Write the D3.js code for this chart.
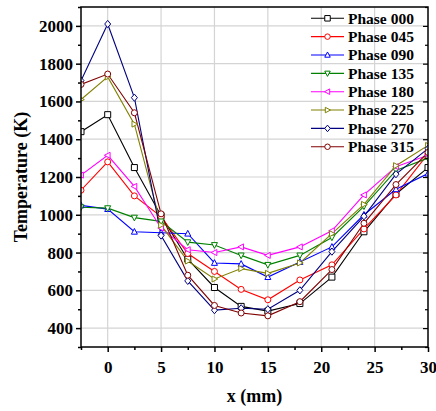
<!DOCTYPE html>
<html><head><meta charset="utf-8">
<script src="https://cdn.jsdelivr.net/npm/d3@7"></script>
<style>
html,body{margin:0;padding:0;background:#fff;}
svg text{font-family:'Liberation Serif','Times New Roman',Times,'DejaVu Serif',serif !important;font-weight:bold;}
</style></head>
<body><svg id="chart" width="436" height="411"></svg>
<script>
const xPositions = [-2.5, 0, 2.5, 5, 7.5, 10, 12.5, 15, 18, 21, 24, 27, 30];
const seriesNames = ["Phase 000","Phase 045","Phase 090","Phase 135","Phase 180","Phase 225","Phase 270","Phase 315"];
const phase000 = [1440, 1530, 1250, 995, 765, 615, 515, 490, 530, 670, 910, 1110, 1250];
const phase045 = [1130, 1280, 1100, 990, 795, 700, 605, 550, 655, 735, 925, 1105, 1322];
const phase090 = [1050, 1030, 910, 905, 900, 745, 740, 670, 750, 830, 1000, 1135, 1218];
const phase135 = [1040, 1035, 985, 965, 855, 840, 785, 735, 785, 880, 1045, 1235, 1300];
const phase180 = [1210, 1315, 1150, 930, 815, 800, 830, 785, 830, 915, 1105, 1255, 1315];
const phase225 = [1610, 1730, 1480, 945, 755, 660, 715, 690, 745, 900, 1055, 1260, 1367];
const phase270 = [1710, 2010, 1620, 890, 650, 495, 505, 500, 600, 805, 992, 1215, 1350];
const phase315 = [1690, 1745, 1540, 1005, 680, 520, 480, 465, 540, 710, 955, 1160, 1330];
const seriesValues = [phase000, phase045, phase090, phase135, phase180, phase225, phase270, phase315];
const colors = ["#000000","#ff0000","#0000ff","#008000","#ff00ff","#808000","#000080","#800000"];
const symbols = ["square","circle","triUp","triDown","triLeft","triRight","diamond","circle"];
const xTicks = [0, 5, 10, 15, 20, 25, 30];
const yTicks = [400, 600, 800, 1000, 1200, 1400, 1600, 1800, 2000];

const FONT = "'Liberation Serif','Times New Roman',Times,'DejaVu Serif',serif";
const W = 436, H = 411;
const m = {left: 81, top: 7, right: 8, bottom: 64};
const iw = W - m.left - m.right, ih = H - m.top - m.bottom;
const svg = d3.select("#chart");
const x = d3.scaleLinear().domain([-2.5, 30]).range([m.left, m.left + iw]);
const y = d3.scaleLinear().domain([300, 2100]).range([m.top + ih, m.top]);

// grid
const g = svg.append("g");
g.selectAll(".gx").data(xTicks.filter(d => d < 30)).enter().append("line")
  .attr("x1", d => x(d)).attr("x2", d => x(d)).attr("y1", m.top).attr("y2", m.top + ih)
  .attr("stroke", "#d4d4d4").attr("stroke-width", 1.2);
g.selectAll(".gy").data(yTicks).enter().append("line")
  .attr("y1", d => y(d)).attr("y2", d => y(d)).attr("x1", m.left).attr("x2", m.left + iw)
  .attr("stroke", "#d4d4d4").attr("stroke-width", 1.2);

svg.append("clipPath").attr("id", "clip").append("rect")
  .attr("x", m.left).attr("y", m.top).attr("width", iw).attr("height", ih);

function symPath(type, s) {
  const h = s / 2;
  switch (type) {
    case "square": return `M${-h},${-h}H${h}V${h}H${-h}Z`;
    case "circle": return `M${h},0A${h},${h} 0 1,1 ${-h},0A${h},${h} 0 1,1 ${h},0Z`;
    case "triUp": return `M0,${-h*1.1}L${h},${h*0.8}L${-h},${h*0.8}Z`;
    case "triDown": return `M0,${h*1.1}L${h},${-h*0.8}L${-h},${-h*0.8}Z`;
    case "triLeft": return `M${-h*1.1},0L${h*0.8},${-h}L${h*0.8},${h}Z`;
    case "triRight": return `M${h*1.1},0L${-h*0.8},${-h}L${-h*0.8},${h}Z`;
    case "diamond": return `M0,${-h*1.2}L${h},0L0,${h*1.2}L${-h},0Z`;
  }
}

const plot = svg.append("g").attr("clip-path", "url(#clip)");
const line = d3.line().x((d, i) => x(xPositions[i])).y(d => y(d));
seriesValues.forEach((vals, si) => {
  plot.append("path").datum(vals).attr("d", line)
    .attr("fill", "none").attr("stroke", colors[si]).attr("stroke-width", 1.1);
});
seriesValues.forEach((vals, si) => {
  plot.selectAll(null).data(vals).enter().append("path")
    .attr("transform", (d, i) => `translate(${x(xPositions[i])},${y(d)})`)
    .attr("d", symPath(symbols[si], 6))
    .attr("fill", "#fff").attr("stroke", colors[si]).attr("stroke-width", 1);
});

const xMinor = d3.range(-2.5, 30.01, 2.5);
const yMinor = d3.range(300, 2100.1, 100);
svg.append("rect").attr("x", m.left).attr("y", m.top).attr("width", iw).attr("height", ih)
  .attr("fill", "none").attr("stroke", "#000").attr("stroke-width", 1.5);

function styleAxis(sel, sw) {
  sel.attr("font-family", FONT).attr("font-weight", "bold");
  sel.select(".domain").remove();
  sel.selectAll(".tick line").attr("stroke-width", sw);
}
const xa = svg.append("g").attr("transform", `translate(0,${m.top + ih})`)
  .call(d3.axisBottom(x).tickValues(xTicks).tickSize(5).tickFormat(d3.format("d")));
styleAxis(xa, 1.5);
xa.selectAll(".tick text").attr("font-size", 17).attr("dy", "1.05em").attr("fill", "#000");
const xam = svg.append("g").attr("transform", `translate(0,${m.top + ih})`)
  .call(d3.axisBottom(x).tickValues(xMinor.filter(v => !xTicks.includes(v))).tickSize(3).tickFormat(""));
styleAxis(xam, 1.5);

const ya = svg.append("g").attr("transform", `translate(${m.left},0)`)
  .call(d3.axisLeft(y).tickValues(yTicks).tickSize(5).tickFormat(d3.format("d")));
styleAxis(ya, 1.5);
ya.selectAll(".tick text").attr("font-size", 17).attr("x", -8).attr("fill", "#000");
const yam = svg.append("g").attr("transform", `translate(${m.left},0)`)
  .call(d3.axisLeft(y).tickValues(yMinor.filter(v => !yTicks.includes(v))).tickSize(3).tickFormat(""));
styleAxis(yam, 1.5);

const yr = svg.append("g").attr("transform", `translate(${m.left + iw},0)`)
  .call(d3.axisRight(y).tickValues(yTicks).tickSize(-5).tickFormat(""));
styleAxis(yr, 1.2);
const yrm = svg.append("g").attr("transform", `translate(${m.left + iw},0)`)
  .call(d3.axisRight(y).tickValues(yMinor.filter(v => !yTicks.includes(v))).tickSize(-3).tickFormat(""));
styleAxis(yrm, 1.2);

svg.append("text").attr("x", m.left + iw / 2).attr("y", 402).attr("text-anchor", "middle")
  .attr("font-family", FONT).attr("font-weight", "bold")
  .attr("font-size", 18).text("x (mm)");
svg.append("text").attr("transform", `translate(27,${m.top + ih / 2}) rotate(-90)`)
  .attr("font-family", FONT).attr("font-weight", "bold")
  .attr("text-anchor", "middle").attr("font-size", 18).text("Temperature (K)");

const lg = svg.append("g").attr("font-family", FONT).attr("font-weight", "bold");
seriesNames.forEach((name, i) => {
  const ly = 18.3 + i * 18.35;
  lg.append("line").attr("x1", 311).attr("x2", 344).attr("y1", ly).attr("y2", ly)
    .attr("stroke", colors[i]).attr("stroke-width", 1.1);
  lg.append("path").attr("transform", `translate(327.5,${ly})`).attr("d", symPath(symbols[i], 5.5))
    .attr("fill", "#fff").attr("stroke", colors[i]).attr("stroke-width", 1);
  lg.append("text").attr("x", 348).attr("y", ly).attr("dy", "0.35em").attr("font-size", 15.5)
    .attr("fill", "#000").text(name);
});
</script></body></html>
